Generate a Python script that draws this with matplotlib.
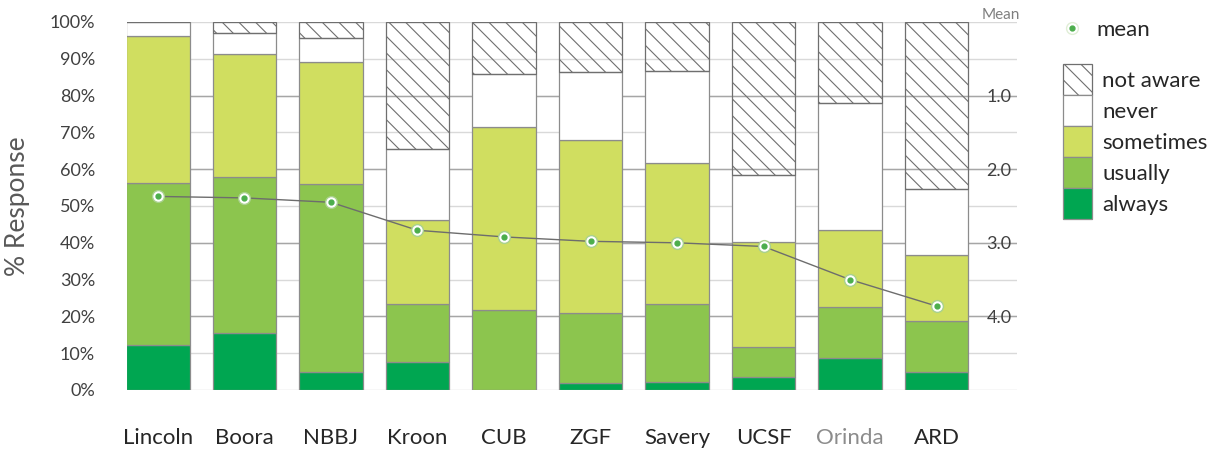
import matplotlib
matplotlib.use("Agg")
import matplotlib.pyplot as plt
from matplotlib.patches import Patch
from matplotlib.lines import Line2D
import numpy as np

plt.rcParams['font.family'] = ['Lato', 'DejaVu Sans']
plt.rcParams['hatch.linewidth'] = 0.8

categories = ["Lincoln", "Boora", "NBBJ", "Kroon", "CUB", "ZGF", "Savery", "UCSF", "Orinda", "ARD"]
always    = [12.2, 15.4, 4.8, 7.7, 0.0, 2.0, 2.1, 3.6, 8.8, 4.8]
usually   = [44.1, 42.6, 51.1, 15.6, 21.7, 18.8, 21.2, 8.0, 13.7, 14.0]
sometimes = [40.0, 33.2, 33.1, 22.9, 49.9, 47.1, 38.3, 28.5, 21.0, 17.9]
never     = [3.7, 5.9, 6.6, 19.3, 14.3, 18.6, 25.1, 18.3, 34.6, 17.9]
not_aware = [0.0, 2.9, 4.4, 34.5, 14.1, 13.5, 13.3, 41.6, 21.9, 45.4]
mean      = [2.37, 2.39, 2.45, 2.83, 2.92, 2.98, 3.00, 3.05, 3.50, 3.86]
mean_ticks = [1, 2, 3, 4]
pct_ticks = list(range(0, 101, 10))

series = [
    ("always", always, dict(facecolor="#00a651")),
    ("usually", usually, dict(facecolor="#8cc54e")),
    ("sometimes", sometimes, dict(facecolor="#d0de60")),
    ("never", never, dict(facecolor="white")),
    ("not aware", not_aware, dict(facecolor="none", hatch="\\\\")),
]

W, H = 1222, 454
fig = plt.figure(figsize=(W / 100, H / 100), dpi=100)
ax = fig.add_axes([127 / W, 1 - 390 / H, (1017 - 127) / W, (390 - 22) / H])

x = np.arange(len(categories))
bw = 0.73

# gridlines
for v in pct_ticks:
    ax.axhline(v, color="#d9d9d9", lw=1.0, zorder=0)
for m in mean_ticks:
    ax.axhline(100 - 20 * m, color="#a6a6a6", lw=1.0, zorder=0.5)

bottom = np.zeros(len(categories))
handles = {}
for name, vals, style in series:
    vals = np.array(vals)
    kw = dict(edgecolor="#8c8c8c", linewidth=0.9)
    if name == "not aware":
        kw["edgecolor"] = "#6f6f6f"
    kw.update(style)
    ax.bar(x, vals, bw, bottom=bottom, zorder=2, **kw)
    bottom += vals
    handles[name] = Patch(**kw)

ax.set_xlim(-0.358, 9.93)
ax.set_ylim(0, 100)
for s in ax.spines.values():
    s.set_visible(False)
ax.set_yticks(pct_ticks)
ax.set_yticklabels([f"{v}%" for v in pct_ticks])
ax.tick_params(axis="y", length=0, pad=23, labelsize=13, labelcolor="#404040")
ax.set_xticks(x)
ax.set_xticklabels(categories)
ax.tick_params(axis="x", length=0, pad=27, labelsize=16, labelcolor="#262626")
ax.get_xticklabels()[categories.index("Orinda")].set_color("#8c8c8c")
ax.set_ylabel("% Response", fontsize=19, color="#595959", labelpad=14)

# secondary mean axis
ax2 = ax.twinx()
ax2.set_ylim(5, 0)
for s in ax2.spines.values():
    s.set_visible(False)
ax2.set_yticks(mean_ticks)
ax2.set_yticklabels([f"{m:.1f}" for m in mean_ticks])
ax2.tick_params(axis="y", length=0, pad=-22, labelsize=13, labelcolor="#404040")
for t in ax2.get_yticklabels():
    t.set_horizontalalignment("left")
ax2.plot(x, mean, color="#6d6d6d", lw=1.0, zorder=3)
ax2.plot(x, mean, ls="none", marker="o", ms=8.5, mfc="white", mec="#a9d18e", mew=1.0, zorder=4)
ax2.plot(x, mean, ls="none", marker="o", ms=3.5, mfc="#4cae4c", mec="#4cae4c", zorder=5)

fig.text(982 / W, 1 - 15 / H, "Mean", fontsize=11, color="#7f7f7f", ha="left", va="center")

# legends
mh_outer = Line2D([], [], ls="none", marker="o", ms=8.5, mfc="white", mec="#e0eed6", mew=1.0)
mh_inner = Line2D([], [], ls="none", marker="o", ms=3.5, mfc="#4cae4c", mec="#4cae4c")
fs = 16
fig.legend([(mh_outer, mh_inner)], ["mean"], loc="upper left",
           bbox_to_anchor=(1061 / W, 1 - 20 / H), frameon=False, fontsize=fs,
           handlelength=1.0, handletextpad=0.6, borderpad=0, borderaxespad=0,
           labelcolor="#262626")
order = ["not aware", "never", "sometimes", "usually", "always"]
fig.legend([handles[n] for n in order], order, loc="upper left",
           bbox_to_anchor=(1063 / W, 1 - 64 / H), frameon=False, fontsize=fs,
           handlelength=29 / 22.2, handleheight=1.77, labelspacing=0,
           handletextpad=0.45, borderpad=0, borderaxespad=0, labelcolor="#262626")

fig.savefig("out.png", dpi=100)
